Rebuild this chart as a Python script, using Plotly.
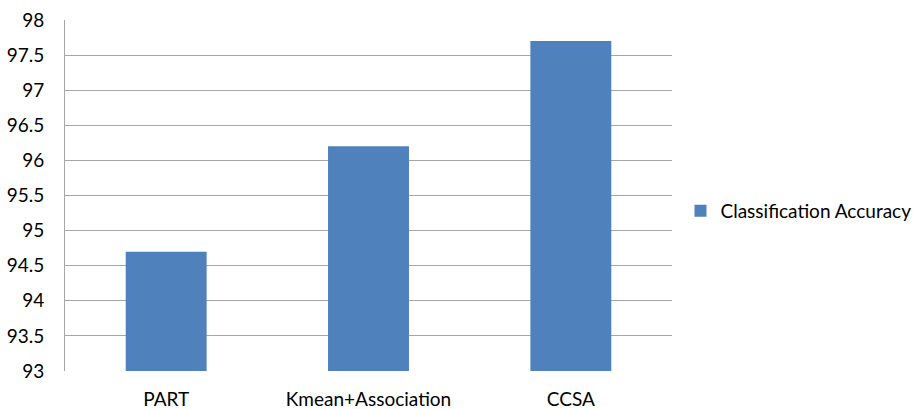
import plotly.graph_objects as go

categories = ["PART", "Kmean+Association", "CCSA"]
accuracy = [94.7, 96.2, 97.7]
series_name = "Classification Accuracy"
y_ticks = [93, 93.5, 94, 94.5, 95, 95.5, 96, 96.5, 97, 97.5, 98]

fig = go.Figure()
fig.add_trace(go.Bar(x=categories, y=accuracy, name=series_name,
                     marker=dict(color="#4F81BD", line=dict(width=0)),
                     width=0.4, showlegend=True))

font = "Lato, Open Sans, sans-serif"
fig.update_layout(
    width=914, height=409,
    margin=dict(l=65, r=242, t=20, b=38, autoexpand=False),
    plot_bgcolor="white", paper_bgcolor="white",
    font=dict(family=font, size=19, color="#000000"),
    showlegend=True,
    legend=dict(x=1.014, y=0.456, xanchor="left", yanchor="middle",
                font=dict(size=19), itemwidth=30, bgcolor="rgba(0,0,0,0)"),
    xaxis=dict(showgrid=False, ticks="outside", ticklen=11, tickcolor="rgba(0,0,0,0)",
               showline=False, zeroline=False, automargin=False),
    yaxis=dict(range=[93, 98], tickvals=y_ticks,
               ticktext=[f"{v:g}" for v in y_ticks],
               showgrid=True, gridcolor="#A6A6A6", gridwidth=1,
               showline=True, linecolor="#A6A6A6", linewidth=1,
               ticks="outside", ticklen=16, tickcolor="rgba(0,0,0,0)",
               zeroline=False, automargin=False),
)
fig.write_html("out.html")
